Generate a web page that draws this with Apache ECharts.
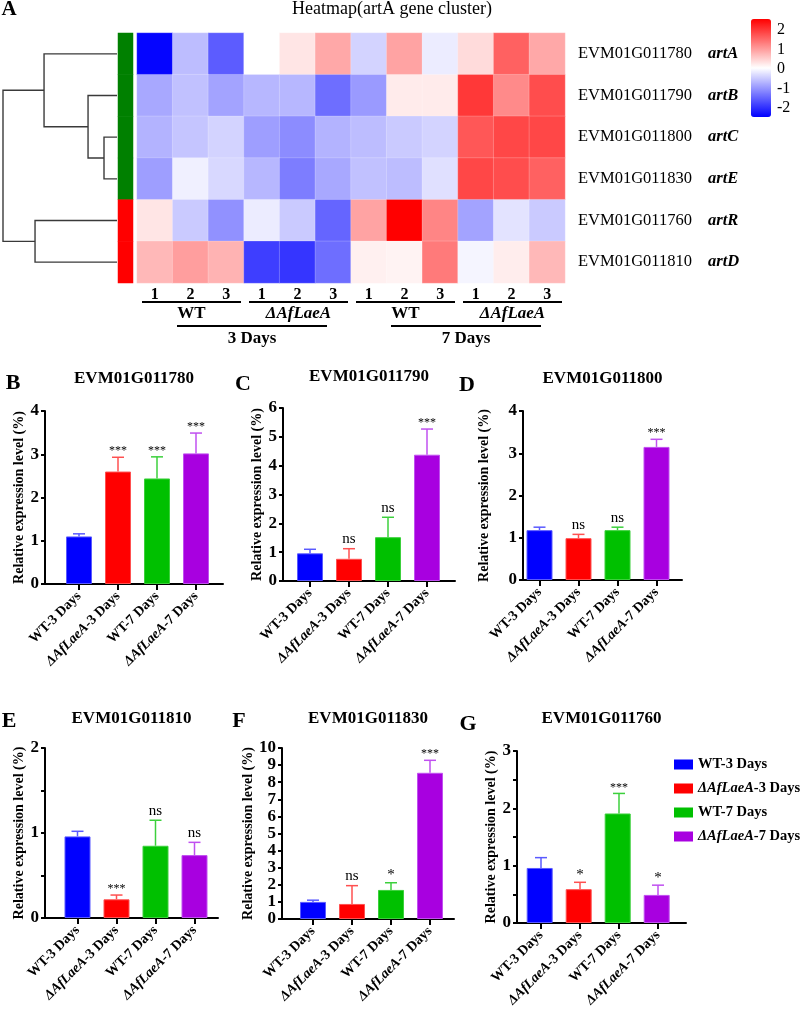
<!DOCTYPE html>
<html><head><meta charset="utf-8">
<script src="https://cdn.jsdelivr.net/npm/echarts@6/dist/echarts.min.js"></script>
<style>html,body{margin:0;padding:0;background:#fff}#c{width:800px;height:1016px}</style>
</head><body><div id="c"></div>
<script>
const FONT = 'Liberation Serif';

// ---------- Heatmap data ----------
const heatTitle = 'Heatmap(artA gene cluster)';
const sampleIds = ['WT3-1','WT3-2','WT3-3','KO3-1','KO3-2','KO3-3','WT7-1','WT7-2','WT7-3','KO7-1','KO7-2','KO7-3'];
const sampleReps = ['1','2','3','1','2','3','1','2','3','1','2','3'];
const strainGroups = ['WT','ΔAfLaeA','WT','ΔAfLaeA'];
const dayGroups = ['3 Days','7 Days'];
const geneIds = ['EVM01G011780','EVM01G011790','EVM01G011800','EVM01G011830','EVM01G011760','EVM01G011810'];
const geneNames = ['artA','artB','artC','artE','artR','artD'];
const rowArtA = [-2.4,-0.6,-1.55,0.05,0.3,0.9,-0.38,0.95,-0.14,0.4,1.6,0.9];
const rowArtB = [-0.8,-0.56,-0.85,-0.66,-0.66,-1.37,-0.94,0.25,0.25,2.0,1.2,1.8];
const rowArtC = [-0.7,-0.52,-0.38,-0.9,-1.08,-0.7,-0.6,-0.47,-0.38,1.7,1.85,1.85];
const rowArtE = [-0.9,-0.1,-0.33,-0.66,-1.22,-0.8,-0.56,-0.6,-0.25,1.85,1.8,1.6];
const rowArtR = [0.3,-0.47,-1.03,-0.14,-0.47,-1.46,0.95,2.55,1.25,-0.85,-0.22,-0.47];
const rowArtD = [0.75,1.0,0.8,-1.84,-1.93,-1.37,0.2,0.17,1.35,-0.05,0.23,0.75];
const heatRows = [rowArtA,rowArtB,rowArtC,rowArtE,rowArtR,rowArtD];
const rowCluster = [1,1,1,1,2,2];
const clusterColors = {1:'#008000',2:'#ff0000'};
// dendrogram merges: [nodeA, nodeB, height]; leaves 0-5, merged nodes 6..
const dendroMerges = [[2,3,1.14],[1,6,2.54],[0,7,6.4],[4,5,7.19],[8,9,10]];
const colorMin = -2.45, colorMax = 2.55;
const colorTicks = [-2,-1,0,1,2];

// ---------- Bar data ----------
const barCats = ['WT-3 Days','ΔAfLaeA-3 Days','WT-7 Days','ΔAfLaeA-7 Days'];
const panelGenes = ['EVM01G011780','EVM01G011790','EVM01G011800','EVM01G011810','EVM01G011830','EVM01G011760'];
const meanB = [1.1,2.6,2.44,3.02],  upperB = [1.16,2.93,2.94,3.49],  sigB = ['','***','***','***'];
const meanC = [0.96,0.77,1.52,4.38], upperC = [1.1,1.12,2.21,5.27],  sigC = ['','ns','ns','***'];
const meanD = [1.18,0.99,1.18,3.15], upperD = [1.25,1.08,1.25,3.33], sigD = ['','ns','ns','***'];
const meanE = [0.96,0.22,0.85,0.74], upperE = [1.02,0.27,1.15,0.89], sigE = ['','***','ns','ns'];
const meanF = [1.0,0.88,1.7,8.55],   upperF = [1.1,1.95,2.12,9.28],  sigF = ['','ns','*','***'];
const meanG = [0.96,0.59,1.91,0.49], upperG = [1.14,0.71,2.26,0.66], sigG = ['','*','***','*'];
const yMaxes = [4,6,4,2,10,3];
const panelLetters = ['B','C','D','E','F','G'];

// ---------- styling / layout ----------
const barColors = ['#0000ff','#ff0000','#00c000','#a800e0'];
const errColors = ['#5a5aff','#ff5050','#3cd03c','#c050f0'];
const layout = [
  {lx:13, ly:383, axisX:45,  gap:34,   xEnd:223, top:411, bottom:584, nameGap:17, minor:false, ty:380},
  {lx:243,ly:384, axisX:283, gap:27,   xEnd:455, top:408, bottom:581, nameGap:13, minor:false, ty:378},
  {lx:467,ly:385, axisX:523, gap:16.5, xEnd:682, top:411, bottom:580, nameGap:32, minor:false, ty:380},
  {lx:9,  ly:721, axisX:45,  gap:32.5, xEnd:218, top:748, bottom:918, nameGap:17, minor:true,  ty:720},
  {lx:239,ly:721, axisX:282, gap:31,   xEnd:454, top:748, bottom:919, nameGap:26, minor:false, ty:720},
  {lx:468,ly:724, axisX:517, gap:24,   xEnd:686, top:751, bottom:923, nameGap:12, minor:true,  ty:720}
];
const UNIT = 39;

const panels = [
  [meanB,upperB,sigB],[meanC,upperC,sigC],[meanD,upperD,sigD],
  [meanE,upperE,sigE],[meanF,upperF,sigF],[meanG,upperG,sigG]
];

const grids=[], xAxes=[], yAxes=[], series=[], titles=[], graphics=[];
const HM = {left:137, top:33, width:428, height:250};

// grid 0 : main heatmap
grids.push({left:HM.left, top:HM.top, width:HM.width, height:HM.height});
xAxes.push({gridIndex:0, type:'category', data:sampleIds, position:'bottom',
  axisLine:{show:false}, axisTick:{show:false}, splitLine:{show:false},
  axisLabel:{margin:4, fontFamily:FONT, fontWeight:'bold', fontSize:16, color:'#000',
    formatter:(v,i)=>sampleReps[i]}});
yAxes.push({gridIndex:0, type:'category', data:geneIds, inverse:true, position:'right',
  axisLine:{show:false}, axisTick:{show:false}, splitLine:{show:false},
  axisLabel:{margin:13, align:'left', color:'#000',
    formatter:(v,i)=>'{g|'+geneIds[i]+'}{n|'+geneNames[i]+'}',
    rich:{g:{fontFamily:FONT, fontSize:16.5, width:130, color:'#000'},
          n:{fontFamily:FONT, fontSize:16.5, fontStyle:'italic', fontWeight:'bold', color:'#000'}}}});
const hmData=[];
heatRows.forEach((row,r)=>row.forEach((v,c)=>hmData.push([c,r,v])));
series.push({type:'heatmap', xAxisIndex:0, yAxisIndex:0, data:hmData, silent:true,
  itemStyle:{borderWidth:0.6, borderColor:'rgba(255,255,255,0.35)'}});

// grid 1 : dendrogram
grids.push({left:3, top:HM.top, width:114, height:HM.height});
xAxes.push({gridIndex:1, type:'value', min:0, max:10, inverse:true, show:false});
yAxes.push({gridIndex:1, type:'value', min:-0.5, max:5.5, inverse:true, show:false});
const nodes = geneIds.map((g,i)=>({y:i, h:0}));
const dLines=[];
dendroMerges.forEach(m=>{
  const a=nodes[m[0]], b=nodes[m[1]], h=m[2];
  dLines.push({coords:[[a.h,a.y],[h,a.y],[h,b.y],[b.h,b.y]]});
  nodes.push({y:(a.y+b.y)/2, h:h});
});
series.push({type:'lines', coordinateSystem:'cartesian2d', xAxisIndex:1, yAxisIndex:1, polyline:true,
  data:dLines, silent:true, lineStyle:{color:'#3a3a3a', width:1.4, opacity:1}});

// grid 2 : row annotation
grids.push({left:118, top:HM.top, width:15, height:HM.height});
xAxes.push({gridIndex:2, type:'category', data:['cluster'], show:false});
yAxes.push({gridIndex:2, type:'category', data:geneIds, inverse:true, show:false});
series.push({type:'heatmap', xAxisIndex:2, yAxisIndex:2, silent:true,
  data:rowCluster.map((c,i)=>({value:[0,i,c], itemStyle:{color:clusterColors[c]}}))});

// grid 3 : colour bar axis
grids.push({left:751, top:19, width:20, height:98});
xAxes.push({gridIndex:3, type:'value', show:false, min:0, max:1});
yAxes.push({gridIndex:3, type:'value', min:colorMin, max:colorMax, position:'right',
  axisLine:{show:false}, splitLine:{show:false},
  axisTick:{show:true, length:4, customValues:colorTicks, lineStyle:{color:'#666', width:1}},
  axisLabel:{customValues:colorTicks, margin:6, fontFamily:FONT, fontSize:16, color:'#000'}});
series.push({type:'line', xAxisIndex:3, yAxisIndex:3, data:[], silent:true});

// bar panels
const catLabel = v => {
  const s = barCats[v-1]; if(!s) return '';
  return s.indexOf('ΔAfLaeA')===0 ? '{i|ΔAfLaeA}{b|'+s.slice(7)+'}' : '{b|'+s+'}';
};
panels.forEach((p,k)=>{
  const L = layout[k], gi = grids.length;
  const w = L.xEnd - L.axisX;
  const xMin = 1 - L.gap/UNIT, xMax = xMin + w/UNIT;
  grids.push({left:L.axisX, top:L.top, width:w, height:L.bottom-L.top});
  xAxes.push({gridIndex:gi, type:'value', min:xMin, max:xMax,
    axisLine:{show:true, onZero:false, lineStyle:{color:'#000', width:2}},
    axisTick:{show:true, customValues:[1,2,3,4], length:6, lineStyle:{color:'#000', width:2}},
    splitLine:{show:false},
    axisLabel:{customValues:[1,2,3,4], rotate:45, margin:10, formatter:catLabel,
      rich:{b:{fontFamily:FONT, fontWeight:'bold', fontSize:14, color:'#000'},
            i:{fontFamily:FONT, fontWeight:'bold', fontStyle:'italic', fontSize:14, color:'#000'}}}});
  yAxes.push({gridIndex:gi, type:'value', min:0, max:yMaxes[k], interval:1,
    axisLine:{show:true, lineStyle:{color:'#000', width:2}},
    axisTick:{show:true, length:4, lineStyle:{color:'#000', width:2}},
    minorTick:{show:L.minor, splitNumber:2, length:4, lineStyle:{color:'#000', width:2}},
    splitLine:{show:false}, minorSplitLine:{show:false},
    axisLabel:{margin:6, fontFamily:FONT, fontWeight:'bold', fontSize:17, color:'#000'},
    name:'Relative expression level (%)', nameLocation:'middle', nameGap:L.nameGap,
    nameTextStyle:{fontFamily:FONT, fontWeight:'bold', fontSize:14, color:'#000'}});
  const [mean, upper, sig] = p;
  series.push({type:'bar', xAxisIndex:gi, yAxisIndex:gi, barWidth:26, silent:true,
    data:mean.map((v,i)=>({value:[i+1,v], itemStyle:{color:barColors[i], borderColor:errColors[i], borderWidth:1}}))});
  series.push({type:'custom', xAxisIndex:gi, yAxisIndex:gi, silent:true,
    data:mean.map((v,i)=>[i+1, v, upper[i], i]),
    encode:{x:0, y:[1,2]},
    renderItem:(params, api)=>{
      const x=api.value(0), m=api.value(1), u=api.value(2), i=api.value(3);
      const a=api.coord([x,m]), b=api.coord([x,u]);
      const col=errColors[i], s=sig[i];
      const ch=[
        {type:'line', shape:{x1:a[0],y1:a[1],x2:b[0],y2:b[1]}, style:{stroke:col, lineWidth:1.5}},
        {type:'line', shape:{x1:b[0]-6,y1:b[1],x2:b[0]+6,y2:b[1]}, style:{stroke:col, lineWidth:1.5}}
      ];
      if(s){
        const star = s.indexOf('*')===0;
        ch.push({type:'text', style:{text:s, x:b[0], y:b[1]-(star?0:2), align:'center', verticalAlign:'bottom',
          fontFamily:FONT, fontSize: s==='***'?12:15, fill:'#000'}});
      }
      return {type:'group', children:ch};
    }});
  titles.push({text:panelGenes[k], left:L.axisX + w/2, top:L.ty-10, textAlign:'center', padding:0,
    textStyle:{fontFamily:FONT, fontWeight:'bold', fontSize:17, color:'#000'}});
  graphics.push({type:'text', x:L.lx, y:L.ly, style:{text:panelLetters[k], align:'center', verticalAlign:'middle',
    fontFamily:FONT, fontWeight:'bold', fontSize:22, fill:'#000'}});
});

// legend series (empty) on last panel
const lastG = grids.length-1;
barCats.forEach((c,i)=>series.push({type:'bar', name:c, xAxisIndex:lastG, yAxisIndex:lastG, data:[], itemStyle:{color:barColors[i]}}));

// heatmap title & annotations
titles.push({text:heatTitle, left:392, top:0, textAlign:'center', padding:0,
  textStyle:{fontFamily:FONT, fontWeight:'normal', fontSize:18, color:'#000'}});
graphics.push({type:'text', x:9, y:10, style:{text:'A', align:'center', verticalAlign:'middle',
  fontFamily:FONT, fontWeight:'bold', fontSize:21, fill:'#000'}});
const colW = HM.width/12;
strainGroups.forEach((g,k)=>{
  const x0 = HM.left + k*3*colW, x1 = x0 + 3*colW;
  graphics.push({type:'line', shape:{x1:x0+5, y1:302, x2:x1-3, y2:302}, style:{stroke:'#000', lineWidth:2}});
  graphics.push({type:'text', x:(x0+x1)/2+1, y:314, style:{text:g, align:'center', verticalAlign:'middle',
    fontFamily:FONT, fontWeight:'bold', fontStyle: g==='WT'?'normal':'italic', fontSize:17, fill:'#000'}});
});
dayGroups.forEach((d,k)=>{
  const cx = HM.left + (k*6+3)*colW + 8;
  graphics.push({type:'line', shape:{x1:cx-75, y1:326, x2:cx+75, y2:326}, style:{stroke:'#000', lineWidth:2}});
  graphics.push({type:'text', x:cx, y:339, style:{text:d, align:'center', verticalAlign:'middle',
    fontFamily:FONT, fontWeight:'bold', fontSize:17, fill:'#000'}});
});

const option = {
  backgroundColor:'#fff',
  animation:false,
  title:titles,
  grid:grids, xAxis:xAxes, yAxis:yAxes, series:series,
  visualMap:{type:'continuous', seriesIndex:0, min:colorMin, max:colorMax, calculable:false,
    inRange:{color:['#0000ff','#ffffff','#ff0000']}, left:751, top:19, itemWidth:20, itemHeight:98,
    padding:0, orient:'vertical', hoverLink:false, text:null, showLabel:false},
  legend:{data:barCats, orient:'vertical', left:669, top:752, itemWidth:19, itemHeight:10, itemGap:9, icon:'rect',
    selectedMode:false,
    formatter:n=>n.indexOf('ΔAfLaeA')===0 ? '{i|ΔAfLaeA}{b|'+n.slice(7)+'}' : '{b|'+n+'}',
    textStyle:{fontFamily:FONT, fontWeight:'bold', fontSize:14.5, color:'#000',
      rich:{b:{fontFamily:FONT, fontWeight:'bold', fontSize:14.5, color:'#000'},
            i:{fontFamily:FONT, fontWeight:'bold', fontStyle:'italic', fontSize:14.5, color:'#000'}}}},
  graphic:graphics
};
const chart = echarts.init(document.getElementById('c'));
chart.setOption(option);
</script></body></html>
